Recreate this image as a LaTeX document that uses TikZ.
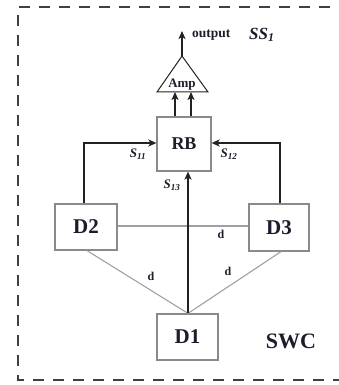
\documentclass[tikz,border=0pt]{standalone}
\usepackage{fontspec}
\setmainfont{Liberation Serif}
\usetikzlibrary{arrows.meta}
\definecolor{txt}{HTML}{1C1C2A}
\definecolor{boxc}{HTML}{8A8A8A}
\definecolor{lin}{HTML}{A0A0A0}
\definecolor{ink}{HTML}{222222}
\tikzset{
  box/.style={draw=boxc, line width=1.2pt, fill=white, text=txt, font=\bfseries\fontsize{21}{21}\selectfont, inner sep=0pt},
  strong/.style={draw=ink, line width=1.9pt, -{Stealth[length=8pt,width=7pt,inset=2pt]}},
  thin/.style={draw=lin, line width=1.1pt},
  lbl/.style={text=txt, font=\bfseries\itshape\fontsize{13}{13}\selectfont, inner sep=0pt},
  dlbl/.style={text=txt, font=\bfseries\fontsize{12}{12}\selectfont, inner sep=0pt},
  border/.style={draw=black!75, line width=1.2pt, dash pattern=on 11pt off 9pt}
}
\begin{document}
\begin{tikzpicture}[x=1pt,y=-1pt]
\useasboundingbox (0,0) rectangle (338,385);
% dashed frame
\draw[border] (350,7) -- (18,7) -- (18,380) -- (350,380);
% amplifier
\coordinate (apex) at (182,56);
\coordinate (bl) at (157,92);
\coordinate (br) at (208,92);
\draw[draw=ink, line width=1pt] (apex) -- (bl) -- (br) -- cycle;
\node[dlbl, font=\bfseries\fontsize{13}{13}\selectfont] (amp) at (182,85) {Amp};
\coordinate (out) at (182,31);
\draw[strong, line width=1.6pt] (apex) -- (out);
\node[dlbl, anchor=west, font=\bfseries\fontsize{13.5}{13.5}\selectfont] (outlbl) at (192,35) {output};
\node[lbl, anchor=west, font=\bfseries\itshape\fontsize{17}{17}\selectfont] (ss) at (249,35) {SS\textsubscript{1}};
% boxes
\node[box, minimum width=54pt, minimum height=54pt, font=\bfseries\fontsize{18}{18}\selectfont] (rb) at (184,144) {RB};
\node[box, minimum width=62pt, minimum height=46pt] (d2) at (86,227) {D2};
\node[box, minimum width=60pt, minimum height=47pt] (d3) at (279,227.5) {D3};
\node[box, minimum width=61pt, minimum height=46pt] (d1) at (187.5,337) {D1};
% gray links
\draw[thin] (d2.east |- 0,226) -- (d3.west |- 0,226);
\draw[thin] ([xshift=1pt]d2.south) -- ([xshift=0.5pt]d1.north);
\draw[thin] ([xshift=2pt]d3.south) -- ([xshift=0.5pt]d1.north);
% strong arrows
\draw[strong] ([xshift=0.5pt]d1.north) -- ([xshift=0.5pt]d1.north |- rb.south);
\draw[strong] ([xshift=-2pt]d2.north) -- ([xshift=-2pt]d2.north |- 0,143) -- (rb.west |- 0,143);
\draw[strong] ([xshift=1pt]d3.north) -- ([xshift=1pt]d3.north |- 0,143) -- (rb.east |- 0,143);
\draw[strong] ([xshift=-9pt]rb.north) -- ([xshift=-9pt]rb.north |- bl);
\draw[strong] ([xshift=7pt]rb.north) -- ([xshift=7pt]rb.north |- bl);
% labels
\node[lbl] (s11) at (138,154) {S\textsubscript{11}};
\node[lbl] (s12) at (229,154) {S\textsubscript{12}};
\node[lbl] (s13) at (172,185) {S\textsubscript{13}};
\node[dlbl] (da) at (221,234) {d};
\node[dlbl] (db) at (151,276) {d};
\node[dlbl] (dc) at (228,271) {d};
\node[text=txt, font=\bfseries\fontsize{22}{22}\selectfont, inner sep=0pt] (swc) at (291,341) {SWC};
\end{tikzpicture}
\end{document}
